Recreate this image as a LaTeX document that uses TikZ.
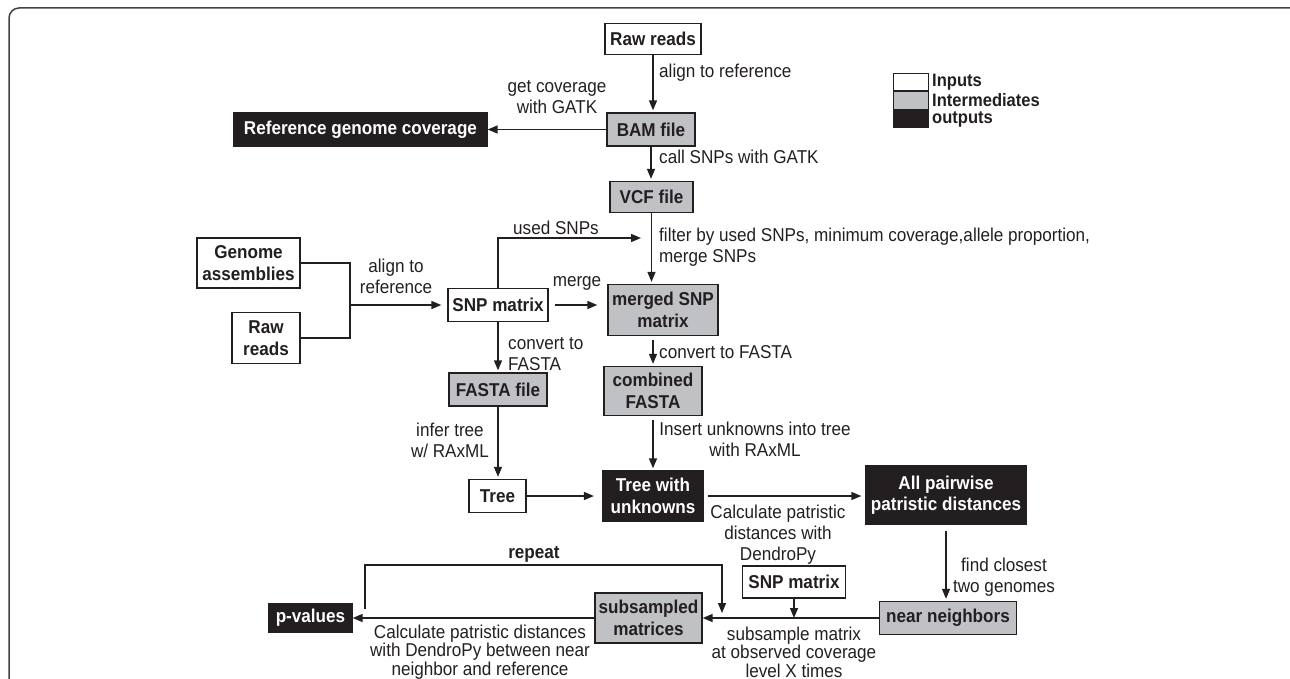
\documentclass[tikz,border=0pt]{standalone}
\usepackage{fontspec}
\setmainfont[FakeStretch=0.92]{Liberation Sans}
\usetikzlibrary{arrows.meta}
\definecolor{boxgray}{RGB}{192,193,196}
\definecolor{boxblack}{RGB}{35,31,32}
\definecolor{ink}{RGB}{35,31,32}
\begin{document}
\begin{tikzpicture}[x=1pt,y=-1pt,
  txt/.style={font=\fontsize{18.6}{21}\selectfont, text=ink},
  box/.style={draw=ink, line width=1.3pt, inner sep=0pt, align=center,
              font=\bfseries\fontsize{18.6}{21.5}\selectfont},
  inbox/.style={box, fill=white, text=ink},
  midbox/.style={box, fill=boxgray, text=ink},
  outbox/.style={box, fill=boxblack, text=white},
  conn/.style={line width=1.4pt, draw=ink},
  arr/.style={conn, -{Triangle[length=10pt,width=8pt]}, shorten >=2pt},
  lbl/.style={txt, inner sep=0pt, align=center},
  lbll/.style={txt, inner sep=0pt, align=left, anchor=west},
  legbox/.style={draw=ink, line width=1pt, minimum width=35, minimum height=17.5, inner sep=0pt},
  legtxt/.style={txt, font=\bfseries\fontsize{18}{20}\selectfont, anchor=west, inner sep=0pt}
]
\useasboundingbox (0,0) rectangle (1290,679);
% frame
\draw[line width=1.5pt, draw=ink!85, rounded corners=10pt] (9,8) rectangle (1310,720);

% nodes
\node[inbox, minimum width=96, minimum height=31] (raw1) at (653,39) {Raw reads};
\node[midbox, minimum width=88, minimum height=33] (bam) at (651,129.5) {BAM file};
\node[outbox, minimum width=253, minimum height=34] (ref) at (360.5,129.5) {Reference genome coverage};
\node[midbox, minimum width=83, minimum height=31] (vcf) at (651.5,197) {VCF file};
\node[inbox, minimum width=103, minimum height=50] (ga) at (248.5,263) {Genome\\assemblies};
\node[inbox, minimum width=68, minimum height=51] (raw2) at (266,338) {Raw\\reads};
\node[inbox, minimum width=100, minimum height=33] (snp) at (498,305) {SNP matrix};
\node[midbox, minimum width=110, minimum height=51] (merged) at (663,310) {merged SNP\\matrix};
\node[midbox, minimum width=98, minimum height=33] (fasta) at (498,389.5) {FASTA file};
\node[midbox, minimum width=98, minimum height=49] (comb) at (653,391) {combined\\FASTA};
\node[inbox, minimum width=57, minimum height=33] (tree) at (497.5,496) {Tree};
\node[outbox, minimum width=101, minimum height=50] (twu) at (653,496) {Tree with\\unknowns};
\node[outbox, minimum width=160, minimum height=58] (apd) at (946,495) {All pairwise\\patristic distances};
\node[midbox, minimum width=137, minimum height=33] (nn) at (948,618) {near neighbors};
\node[inbox, minimum width=103, minimum height=32] (snp2) at (794,582) {SNP matrix};
\node[midbox, minimum width=107, minimum height=50] (sub) at (648.5,618) {subsampled\\matrices};
\node[outbox, minimum width=83, minimum height=28] (pv) at (310.5,618) {p-values};

% legend
\node[legbox, fill=white] (lg1) at (911,82) {};
\node[legbox, fill=boxgray] (lg2) at (911,100.5) {};
\node[legbox, fill=boxblack] (lg3) at (911,119) {};
\node[legtxt] (lt1) at (932,82) {Inputs};
\node[legtxt] (lt2) at (932,100.5) {Intermediates};
\node[legtxt] (lt3) at (932,119) {outputs};

% connectors
\draw[arr] (raw1.south) -- (raw1.south |- bam.north);
\draw[arr, shorten >=0pt] (bam.west) -- (bam.west -| ref.east);
\draw[arr] (bam.south) -- (bam.south |- vcf.north);
\draw[arr] (vcf.south) -- (vcf.south |- merged.north);
\coordinate (j) at (350,305);
\draw[conn] (ga.east) -| (j);
\draw[conn] (raw2.east) -| (j);
\draw[arr, shorten >=6pt] (j) -- (snp.west);
\coordinate (us) at (643,238);
\draw[arr] (snp.north) |- (us);
\draw[arr, shorten >=10pt, shorten <=6pt] (snp.east) -- (snp.east -| merged.west);
\draw[arr] (snp.south) -- (snp.south |- fasta.north);
\draw[arr, shorten <=4pt] (comb.north |- merged.south) -- (comb.north);
\draw[arr] (fasta.south) -- (fasta.south |- tree.north);
\draw[arr, shorten <=4pt] (comb.south) -- (comb.south |- twu.north);
\draw[arr, shorten >=8pt] (tree.east) -- (tree.east -| twu.west);
\draw[arr, shorten >=4pt, shorten <=4pt] (twu.east) -- (twu.east -| apd.west);
\draw[arr, shorten <=6pt] (apd.south) -- (apd.south |- nn.north);
\draw[arr, shorten >=0pt] (nn.west) -- (nn.west -| sub.east);
\draw[arr, shorten >=0pt] (snp2.south) -- (snp2.south |- nn.west);
\draw[arr, shorten >=0pt] (sub.west) -- (sub.west -| pv.east);
\coordinate (rs) at (365,609);
\coordinate (rc) at (722,565);
\coordinate (re) at (722,613);
\draw[arr, shorten >=0pt] (rs) |- (rc) -- (re);

% labels
\node[lbll] (l1) at (659,73) {align to reference};
\node[lbl] (l2) at (557,97.5) {get coverage\\with GATK};
\node[lbll] (l3) at (659,157) {call SNPs with GATK};
\node[lbl] (l4) at (556,228) {used SNPs};
\node[lbll] (l5) at (659,247.5) {filter by used SNPs, minimum coverage,allele proportion,\\merge SNPs};
\node[lbl] (l6) at (396,276.5) {align to\\reference};
\node[lbl] (l7) at (577,283) {merge};
\node[lbll] (l8) at (508,354.5) {convert to\\FASTA};
\node[lbll] (l9) at (659,352) {convert to FASTA};
\node[lbl] (l10) at (450,440) {infer tree\\w/ RAxML};
\node[lbl] (l11) at (755,439) {Insert unknowns into tree\\with RAxML};
\node[lbl] (l12) at (778,535) {Calculate patristic\\distances with\\DendroPy};
\node[lbl] (l13) at (1004,577) {find closest\\two genomes};
\node[lbl, font=\bfseries\fontsize{18.6}{21}\selectfont] (l14) at (534,554) {repeat};
\node[lbl, font=\fontsize{18.6}{18.5}\selectfont] (l15) at (480,652) {Calculate patristic distances\\with DendroPy between near\\neighbor and reference};
\node[lbl, font=\fontsize{18.6}{18.5}\selectfont] (l16) at (794,652) {subsample matrix\\at observed coverage\\level X times};
\end{tikzpicture}
\end{document}
